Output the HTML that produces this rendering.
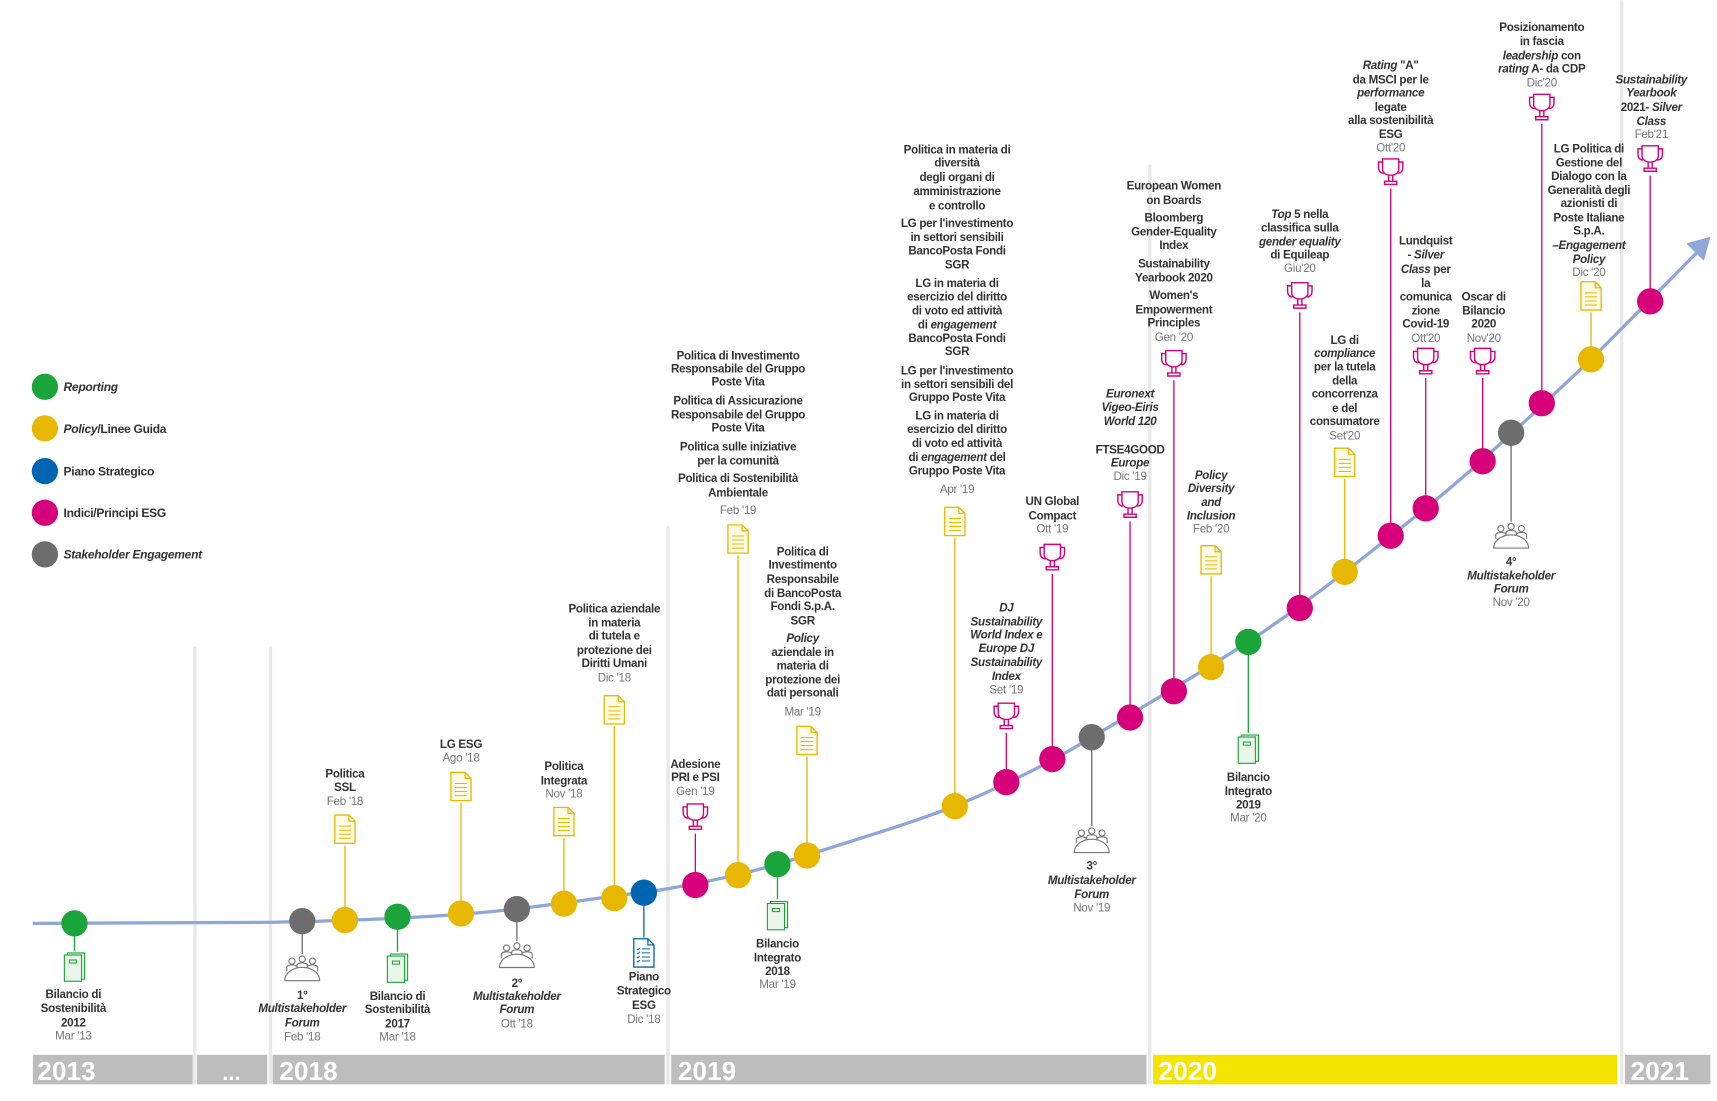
<!DOCTYPE html>
<html><head><meta charset="utf-8"><style>
html,body{margin:0;padding:0;background:#fff}
svg{display:block}
text{font-family:"Liberation Sans",Arial,sans-serif;font-size:10.6px;font-weight:bold;fill:#333;text-anchor:middle;letter-spacing:-0.25px}
.d{font-weight:normal;fill:#777}
.i{font-style:italic}
.l{text-anchor:start;font-size:11px}
.y{font-size:24px;fill:#fff;text-anchor:start;letter-spacing:0}
</style></head><body>
<svg width="1717" height="1101" viewBox="0 0 1568 1005" xmlns="http://www.w3.org/2000/svg">
<defs>
<symbol id="doc" viewBox="-13 -16 26 32" overflow="visible"><path d="M-10,-14H4L10,-8V14H-10Z" fill="#fffbe6" stroke="#e8b800" stroke-width="1.3"/><path d="M4,-14V-8H10" fill="none" stroke="#e8b800" stroke-width="1.2"/><path d="M-6,-3H6M-6,1H6M-6,5H6M-6,9H6" stroke="#e8b800" stroke-width="1"/></symbol>
<symbol id="bdoc" viewBox="-13 -16 26 32" overflow="visible"><path d="M-10,-14H4L10,-8V14H-10Z" fill="#fff" stroke="#0065b1" stroke-width="1.3"/><path d="M4,-14V-8H10" fill="none" stroke="#0065b1" stroke-width="1.2"/><path d="M-2,-4H6M-2,0H6M-2,4H6M-2,8H6M-7,-4l1,1 2,-2M-7,0l1,1 2,-2M-7,4l1,1 2,-2M-7,8l1,1 2,-2" stroke="#0065b1" stroke-width="1" fill="none"/></symbol>
<symbol id="tro" viewBox="-14 -16 28 32" overflow="visible"><g fill="none" stroke="#d6007a" stroke-width="1.4"><path d="M-8,-13H8V-3C8,5 -8,5 -8,-3Z"/><path d="M-8,-10H-12V-5C-12,-1 -10,1 -7,1M8,-10H12V-5C12,-1 10,1 7,1"/><path d="M-2,3V9M2,3V9"/><path d="M-6,9H6V12H-6Z"/></g></symbol>
<symbol id="book" viewBox="-13 -16 26 32" overflow="visible"><rect x="-7" y="-13" width="17" height="26" fill="#eaf6ea" stroke="#1aa53a" stroke-width="1.1"/><rect x="-10" y="-11" width="17" height="26" fill="#eaf6ea" stroke="#1aa53a" stroke-width="1.1"/><rect x="-5" y="-6" width="7" height="3" fill="none" stroke="#1aa53a" stroke-width="1"/></symbol>
<symbol id="ppl" viewBox="-18 -16 36 32" overflow="visible"><g fill="#fff" stroke="#777" stroke-width="1.1"><circle cx="-10" cy="-8" r="3"/><circle cx="0" cy="-10" r="3"/><circle cx="10" cy="-8" r="3"/><path d="M-15,2V-2C-15,-5 -5,-5 -5,-2V2M5,2V-2C5,-5 15,-5 15,-2V2M-5,0V-4C-5,-7 5,-7 5,-4V0"/><path d="M-17,11A17,13 0 0 1 17,11Z"/></g></symbol>
</defs>
<!-- separators -->
<g stroke="#e8e8e8" stroke-width="3">
<line x1="178" y1="590" x2="178" y2="990"/><line x1="247" y1="590" x2="247" y2="990"/><line x1="610" y1="480" x2="610" y2="990"/><line x1="1050" y1="150" x2="1050" y2="990"/><line x1="1481" y1="0" x2="1481" y2="990"/>
</g>
<!-- year bar -->
<g fill="#bdbdbd"><rect x="30" y="963" width="146" height="27"/><rect x="180" y="963" width="64" height="27"/><rect x="249" y="963" width="358" height="27"/><rect x="613" y="963" width="434" height="27"/><rect x="1053" y="963" width="424" height="27" fill="#f5e400"/><rect x="1484" y="963" width="78" height="27"/></g>
<text class="y" x="34" y="986">2013</text><text class="y" x="203" y="986" style="font-size:20px">...</text><text class="y" x="255" y="986">2018</text><text class="y" x="619" y="986">2019</text><text class="y" x="1058" y="986">2020</text><text class="y" x="1489" y="986">2021</text>
<!-- curve -->
<path d="M30,843 L250,842 C350,840 420,836 470,830 C520,824 560,818 600,813 C660,803 700,793 736,781 C790,764 830,752 872,736 C920,716 960,696 997,673 C1050,642 1090,618 1140,586 C1200,546 1250,505 1302,464 C1350,425 1400,378 1453,328 L1550,230" fill="none" stroke="#8fa7d8" stroke-width="3"/>
<path d="M1562,216 L1540,222 L1556,238 Z" fill="#8fa7d8"/>
<!-- stems -->
<g stroke-width="1.2" fill="none">
<g stroke="#e8b800"><path d="M315,840V772M421,834V733M515,825V765M561,820V663M674,799V507M737,781V691M872,736V491M1106,609V526M1228,522V437M1453,328V285"/></g>
<g stroke="#d6007a"><path d="M635,808V761M919,714V669M961,693V524M1032,655V476M1072,631V347M1187,555V285M1270,489V172M1302,464V345M1354,421V345M1408,368V113M1507,275V160"/></g>
<g stroke="#1aa53a"><path d="M68,843V868M363,837V869M710,789V821M1140,586V669"/></g>
<g stroke="#6d6d6d"><path d="M276,841V871M472,830V859M997,673V754M1380,395V476"/></g>
<g stroke="#0065b1"><path d="M588,815V856"/></g>
</g>
<!-- dots -->
<g>
<circle cx="68" cy="843" r="12" fill="#1aa53a"/><circle cx="276" cy="841" r="12" fill="#6d6d6d"/><circle cx="315" cy="840" r="12" fill="#e8b800"/><circle cx="363" cy="837" r="12" fill="#1aa53a"/><circle cx="421" cy="834" r="12" fill="#e8b800"/><circle cx="472" cy="830" r="12" fill="#6d6d6d"/><circle cx="515" cy="825" r="12" fill="#e8b800"/><circle cx="561" cy="820" r="12" fill="#e8b800"/><circle cx="588" cy="815" r="12" fill="#0065b1"/><circle cx="635" cy="808" r="12" fill="#d6007a"/><circle cx="674" cy="799" r="12" fill="#e8b800"/><circle cx="710" cy="789" r="12" fill="#1aa53a"/><circle cx="737" cy="781" r="12" fill="#e8b800"/><circle cx="872" cy="736" r="12" fill="#e8b800"/><circle cx="919" cy="714" r="12" fill="#d6007a"/><circle cx="961" cy="693" r="12" fill="#d6007a"/><circle cx="997" cy="673" r="12" fill="#6d6d6d"/><circle cx="1032" cy="655" r="12" fill="#d6007a"/><circle cx="1072" cy="631" r="12" fill="#d6007a"/><circle cx="1106" cy="609" r="12" fill="#e8b800"/><circle cx="1140" cy="586" r="12" fill="#1aa53a"/><circle cx="1187" cy="555" r="12" fill="#d6007a"/><circle cx="1228" cy="522" r="12" fill="#e8b800"/><circle cx="1270" cy="489" r="12" fill="#d6007a"/><circle cx="1302" cy="464" r="12" fill="#d6007a"/><circle cx="1354" cy="421" r="12" fill="#d6007a"/><circle cx="1380" cy="395" r="12" fill="#6d6d6d"/><circle cx="1408" cy="368" r="12" fill="#d6007a"/><circle cx="1453" cy="328" r="12" fill="#e8b800"/><circle cx="1507" cy="275" r="12" fill="#d6007a"/>
</g>
<!-- icons -->
<g>
<use href="#doc" x="303" y="742" width="24" height="30"/><use href="#doc" x="409" y="703" width="24" height="30"/><use href="#doc" x="503" y="735" width="24" height="30"/><use href="#doc" x="549" y="633" width="24" height="30"/><use href="#doc" x="662" y="477" width="24" height="30"/><use href="#doc" x="725" y="661" width="24" height="30"/><use href="#doc" x="860" y="461" width="24" height="30"/><use href="#doc" x="1094" y="496" width="24" height="30"/><use href="#doc" x="1216" y="407" width="24" height="30"/><use href="#doc" x="1441" y="255" width="24" height="30"/>
<use href="#tro" x="622" y="731" width="26" height="30"/><use href="#tro" x="906" y="639" width="26" height="30"/><use href="#tro" x="948" y="494" width="26" height="30"/><use href="#tro" x="1019" y="446" width="26" height="30"/><use href="#tro" x="1059" y="317" width="26" height="30"/><use href="#tro" x="1174" y="255" width="26" height="30"/><use href="#tro" x="1257" y="142" width="26" height="30"/><use href="#tro" x="1289" y="315" width="26" height="30"/><use href="#tro" x="1341" y="315" width="26" height="30"/><use href="#tro" x="1395" y="83" width="26" height="30"/><use href="#tro" x="1494" y="130" width="26" height="30"/>
<use href="#book" x="56" y="867" width="24" height="30"/><use href="#book" x="351" y="868" width="24" height="30"/><use href="#book" x="698" y="820" width="24" height="30"/><use href="#book" x="1128" y="668" width="24" height="30"/>
<use href="#ppl" x="258" y="870" width="36" height="30"/><use href="#ppl" x="454" y="858" width="36" height="30"/><use href="#ppl" x="979" y="753" width="36" height="30"/><use href="#ppl" x="1362" y="475" width="36" height="30"/>
<use href="#bdoc" x="576" y="855" width="24" height="30"/>
</g>
<!-- legend -->
<circle cx="41" cy="353" r="12" fill="#1aa53a"/><circle cx="41" cy="391" r="12" fill="#e8b800"/><circle cx="41" cy="430" r="12" fill="#0065b1"/><circle cx="41" cy="468" r="12" fill="#d6007a"/><circle cx="41" cy="506" r="12" fill="#6d6d6d"/>
<text class="l i" x="58" y="357">Reporting</text>
<text class="l" x="58" y="395"><tspan class="i">Policy</tspan>/Linee Guida</text>
<text class="l" x="58" y="434">Piano Strategico</text>
<text class="l" x="58" y="472">Indici/Principi ESG</text>
<text class="l i" x="58" y="510">Stakeholder Engagement</text>
<!-- above labels -->
<text x="315" y="710">Politica</text><text x="315" y="722">SSL</text><text class="d" x="315" y="735">Feb '18</text>
<text x="421" y="683">LG ESG</text><text class="d" x="421" y="695">Ago '18</text>
<text x="515" y="703">Politica</text><text x="515" y="716">Integrata</text><text class="d" x="515" y="728">Nov '18</text>
<text x="561" y="559">Politica aziendale</text><text x="561" y="572">in materia</text><text x="561" y="584">di tutela e</text><text x="561" y="597">protezione dei</text><text x="561" y="609">Diritti Umani</text><text class="d" x="561" y="622">Dic '18</text>
<text x="635" y="701">Adesione</text><text x="635" y="713">PRI e PSI</text><text class="d" x="635" y="726">Gen '19</text>
<text x="674" y="328">Politica di Investimento</text><text x="674" y="340">Responsabile del Gruppo</text><text x="674" y="352">Poste Vita</text><text x="674" y="369">Politica di Assicurazione</text><text x="674" y="382">Responsabile del Gruppo</text><text x="674" y="394">Poste Vita</text><text x="674" y="411">Politica sulle iniziative</text><text x="674" y="424">per la comunità</text><text x="674" y="440">Politica di Sostenibilità</text><text x="674" y="453">Ambientale</text><text class="d" x="674" y="469">Feb '19</text>
<text x="733" y="507">Politica di</text><text x="733" y="519">Investimento</text><text x="733" y="532">Responsabile</text><text x="733" y="545">di BancoPosta</text><text x="733" y="557">Fondi S.p.A.</text><text x="733" y="570">SGR</text><text class="i" x="733" y="586">Policy</text><text x="733" y="599">aziendale in</text><text x="733" y="611">materia di</text><text x="733" y="624">protezione dei</text><text x="733" y="636">dati personali</text><text class="d" x="733" y="653">Mar '19</text>
<text x="874" y="140">Politica in materia di</text><text x="874" y="152">diversità</text><text x="874" y="165">degli organi di</text><text x="874" y="178">amministrazione</text><text x="874" y="191">e controllo</text>
<text x="874" y="207">LG per l'investimento</text><text x="874" y="220">in settori sensibili</text><text x="874" y="232">BancoPosta Fondi</text><text x="874" y="245">SGR</text>
<text x="874" y="262">LG in materia di</text><text x="874" y="274">esercizio del diritto</text><text x="874" y="287">di voto ed attività</text><text x="874" y="300">di <tspan class="i">engagement</tspan></text><text x="874" y="312">BancoPosta Fondi</text><text x="874" y="324">SGR</text>
<text x="874" y="342">LG per l'investimento</text><text x="874" y="354">in settori sensibili del</text><text x="874" y="366">Gruppo Poste Vita</text>
<text x="874" y="383">LG in materia di</text><text x="874" y="395">esercizio del diritto</text><text x="874" y="408">di voto ed attività</text><text x="874" y="421">di <tspan class="i">engagement</tspan> del</text><text x="874" y="433">Gruppo Poste Vita</text><text class="d" x="874" y="450">Apr '19</text>
<g class="i"><text class="i" x="919" y="558">DJ</text><text class="i" x="919" y="571">Sustainability</text><text class="i" x="919" y="583">World Index e</text><text class="i" x="919" y="595">Europe DJ</text><text class="i" x="919" y="608">Sustainability</text><text class="i" x="919" y="621">Index</text></g><text class="d" x="919" y="633">Set '19</text>
<text x="961" y="461">UN Global</text><text x="961" y="474">Compact</text><text class="d" x="961" y="486">Ott '19</text>
<text class="i" x="1032" y="363">Euronext</text><text class="i" x="1032" y="375">Vigeo-Eiris</text><text class="i" x="1032" y="388">World 120</text><text x="1032" y="414">FTSE4GOOD</text><text class="i" x="1032" y="426">Europe</text><text class="d" x="1032" y="438">Dic '19</text>
<text x="1072" y="173">European Women</text><text x="1072" y="186">on Boards</text><text x="1072" y="202">Bloomberg</text><text x="1072" y="215">Gender-Equality</text><text x="1072" y="227">Index</text><text x="1072" y="244">Sustainability</text><text x="1072" y="257">Yearbook 2020</text><text x="1072" y="273">Women's</text><text x="1072" y="286">Empowerment</text><text x="1072" y="298">Principles</text><text class="d" x="1072" y="311">Gen '20</text>
<text class="i" x="1106" y="437">Policy</text><text class="i" x="1106" y="449">Diversity</text><text class="i" x="1106" y="462">and</text><text class="i" x="1106" y="474">Inclusion</text><text class="d" x="1106" y="486">Feb '20</text>
<text x="1187" y="199"><tspan class="i">Top</tspan> 5 nella</text><text x="1187" y="211">classifica sulla</text><text class="i" x="1187" y="224">gender equality</text><text x="1187" y="236">di Equileap</text><text class="d" x="1187" y="248">Giu'20</text>
<text x="1228" y="314">LG di</text><text class="i" x="1228" y="326">compliance</text><text x="1228" y="338">per la tutela</text><text x="1228" y="351">della</text><text x="1228" y="363">concorrenza</text><text x="1228" y="376">e del</text><text x="1228" y="388">consumatore</text><text class="d" x="1228" y="401">Set'20</text>
<text x="1270" y="63"><tspan class="i">Rating</tspan> "A"</text><text x="1270" y="76">da MSCI per le</text><text class="i" x="1270" y="88">performance</text><text x="1270" y="101">legate</text><text x="1270" y="113">alla sostenibilità</text><text x="1270" y="126">ESG</text><text class="d" x="1270" y="138">Ott'20</text>
<text x="1302" y="223">Lundquist</text><text x="1302" y="236">- <tspan class="i">Silver</tspan></text><text x="1302" y="249"><tspan class="i">Class</tspan> per</text><text x="1302" y="262">la</text><text x="1302" y="274">comunica</text><text x="1302" y="287">zione</text><text x="1302" y="299">Covid-19</text><text class="d" x="1302" y="312">Ott'20</text>
<text x="1355" y="274">Oscar di</text><text x="1355" y="287">Bilancio</text><text x="1355" y="299">2020</text><text class="d" x="1355" y="312">Nov'20</text>
<text x="1408" y="28">Posizionamento</text><text x="1408" y="41">in fascia</text><text x="1408" y="54"><tspan class="i">leadership</tspan> con</text><text x="1408" y="66"><tspan class="i">rating</tspan> A- da CDP</text><text class="d" x="1408" y="79">Dic'20</text>
<text x="1451" y="139">LG Politica di</text><text x="1451" y="152">Gestione del</text><text x="1451" y="164">Dialogo con la</text><text x="1451" y="177">Generalità degli</text><text x="1451" y="189">azionisti di</text><text x="1451" y="202">Poste Italiane</text><text x="1451" y="214">S.p.A.</text><text class="i" x="1451" y="227">–Engagement</text><text class="i" x="1451" y="240">Policy</text><text class="d" x="1451" y="252">Dic '20</text>
<text class="i" x="1508" y="76">Sustainability</text><text class="i" x="1508" y="88">Yearbook</text><text x="1508" y="101">2021- <tspan class="i">Silver</tspan></text><text class="i" x="1508" y="114">Class</text><text class="d" x="1508" y="126">Feb'21</text>
<!-- below labels -->
<text x="67" y="911">Bilancio di</text><text x="67" y="924">Sostenibilità</text><text x="67" y="937">2012</text><text class="d" x="67" y="949">Mar '13</text>
<text x="276" y="912">1°</text><text class="i" x="276" y="924">Multistakeholder</text><text class="i" x="276" y="937">Forum</text><text class="d" x="276" y="950">Feb '18</text>
<text x="363" y="913">Bilancio di</text><text x="363" y="925">Sostenibilità</text><text x="363" y="938">2017</text><text class="d" x="363" y="950">Mar '18</text>
<text x="472" y="901">2°</text><text class="i" x="472" y="913">Multistakeholder</text><text class="i" x="472" y="925">Forum</text><text class="d" x="472" y="938">Ott '18</text>
<text x="588" y="895">Piano</text><text x="588" y="908">Strategico</text><text x="588" y="921">ESG</text><text class="d" x="588" y="934">Dic '18</text>
<text x="710" y="865">Bilancio</text><text x="710" y="878">Integrato</text><text x="710" y="890">2018</text><text class="d" x="710" y="902">Mar '19</text>
<text x="997" y="794">3°</text><text class="i" x="997" y="807">Multistakeholder</text><text class="i" x="997" y="820">Forum</text><text class="d" x="997" y="832">Nov '19</text>
<text x="1140" y="713">Bilancio</text><text x="1140" y="726">Integrato</text><text x="1140" y="738">2019</text><text class="d" x="1140" y="750">Mar '20</text>
<text x="1380" y="516">4°</text><text class="i" x="1380" y="529">Multistakeholder</text><text class="i" x="1380" y="541">Forum</text><text class="d" x="1380" y="553">Nov '20</text>
</svg>
</body></html>
